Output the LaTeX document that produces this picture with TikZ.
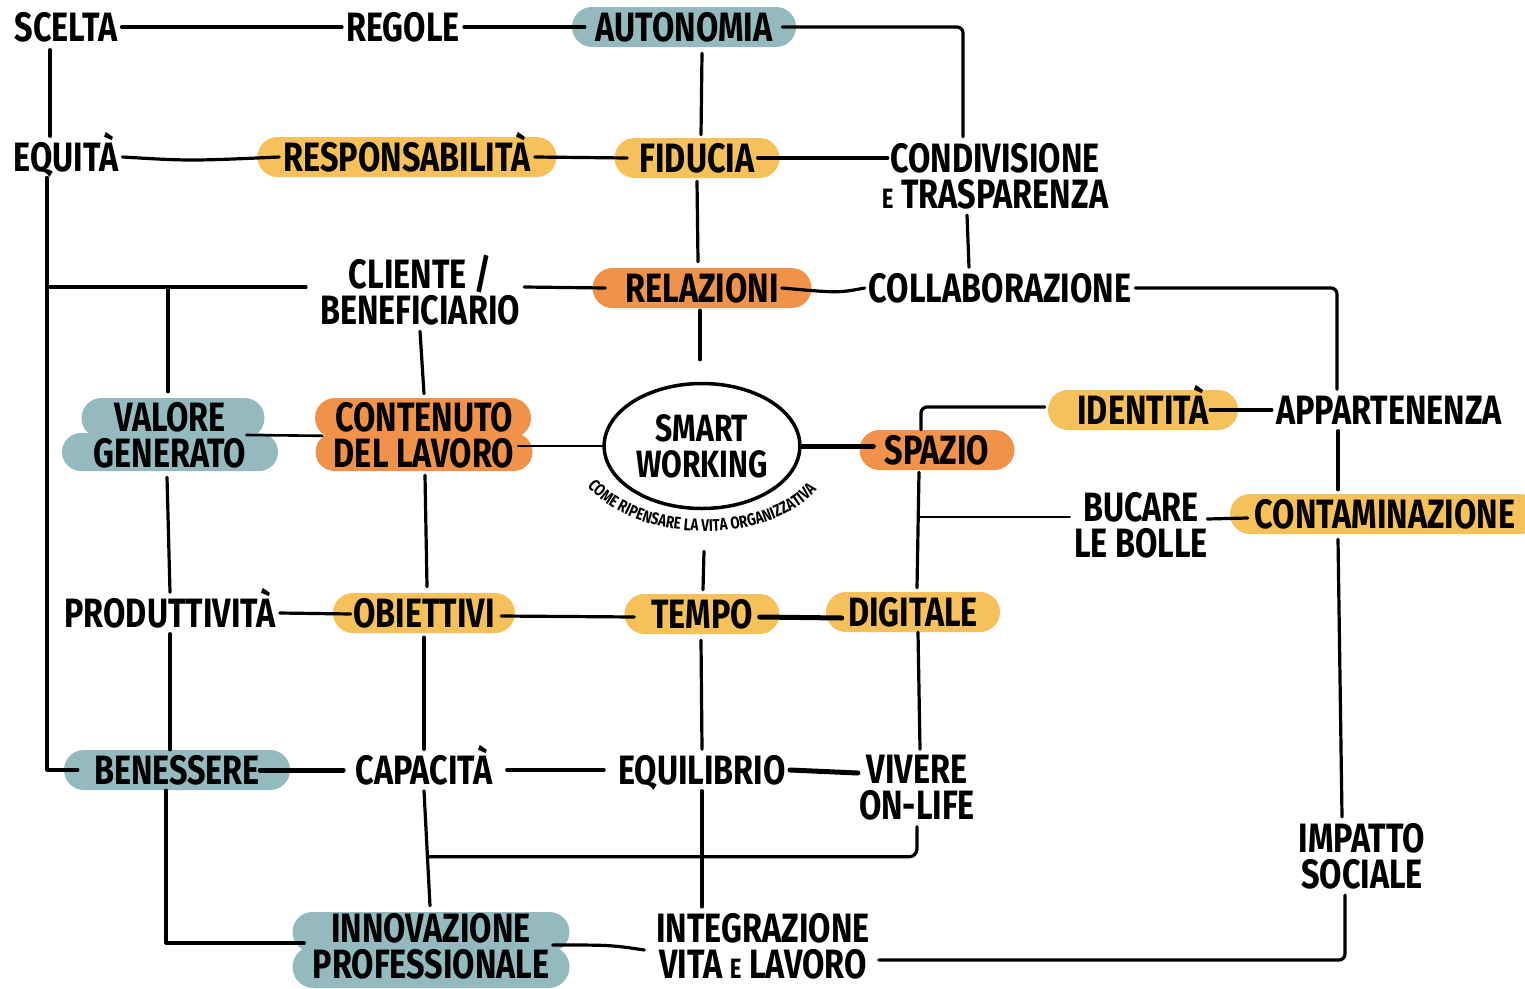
\documentclass[tikz,border=0pt]{standalone}
\usepackage{fontspec}
\newfontfamily\hand{Fira Sans}[FakeStretch=0.79]
\usetikzlibrary{calc,shapes.misc,shapes.geometric,decorations.text}
\definecolor{blu}{RGB}{148,185,191}
\definecolor{yel}{RGB}{246,192,90}
\definecolor{ora}{RGB}{240,146,74}
\tikzset{
  lbl/.style={font=\hand\bfseries\fontsize{41}{36}\selectfont, inner xsep=4pt, inner ysep=6pt, align=center, text=black},
  one/.style={lbl, text height=29pt, text depth=0pt},
  pill/.style={rounded rectangle, fill=#1, minimum height=40pt, inner sep=0pt, text height=29pt, text depth=0pt, font=\hand\bfseries\fontsize{41}{36}\selectfont, text=black},
  bgpill/.style={rounded rectangle, fill=#1, minimum height=40pt, inner sep=0pt},
  conn/.style={line width=3.2pt, line cap=round, line join=round, black},
  thk/.style={line width=5pt, line cap=round, black},
  thn/.style={line width=2.6pt, line cap=round, black},
}
\newcommand{\smallE}{{\fontsize{28}{28}\selectfont E}}
\begin{document}
\begin{tikzpicture}[x=1pt,y=-1pt]
\useasboundingbox (0,0) rectangle (1525,988);
% ---- nodes ----
\node[one] (scelta) at (66,27) {SCELTA};
\node[one] (regole) at (403,27) {REGOLE};
\node[pill=blu, minimum width=224pt] (auto) at (684,27) {AUTONOMIA};
\node[one] (equita) at (66,157) {EQUITÀ};
\node[pill=yel, minimum width=299pt] (resp) at (407,157) {RESPONSABILITÀ};
\node[pill=yel, minimum width=165pt] (fid) at (697,158) {FIDUCIA};
\node[lbl] (cond) at (995,176) {CONDIVISIONE\\\smallE\ TRASPARENZA};
\node[lbl] (cli) at (420,290) {CLIENTE /\\BENEFICIARIO};
\node[pill=ora, minimum width=219pt] (rel) at (702,288) {RELAZIONI};
\node[one] (coll) at (1000,288) {COLLABORAZIONE};
\node[ellipse, draw, line width=3.5pt, minimum width=195pt, minimum height=125pt, font=\hand\bfseries\fontsize{38}{36}\selectfont, align=center] (sw) at (702,446) {SMART\\WORKING};
\node[bgpill=blu, minimum width=183pt] (valA) at (173,418) {};
\node[bgpill=blu, minimum width=216pt, minimum height=38pt] (valB) at (170,452) {};
\node[lbl] (val) at (170,435) {VALORE\\GENERATO};
\node[bgpill=ora, minimum width=216pt] (contA) at (423,418) {};
\node[bgpill=ora, minimum width=217pt, minimum height=38pt] (contB) at (424,452) {};
\node[lbl] (cont) at (424,435) {CONTENUTO\\DEL LAVORO};
\node[pill=yel, minimum width=190pt] (ident) at (1143,410) {IDENTITÀ};
\node[one] (app) at (1389,410) {APPARTENENZA};
\node[pill=ora, minimum width=155pt] (spazio) at (937,450) {SPAZIO};
\node[lbl] (bucare) at (1141,525) {BUCARE\\LE BOLLE};
\node[pill=yel, minimum width=310pt] (contam) at (1385,514) {CONTAMINAZIONE};
\node[one] (prod) at (170,613) {PRODUTTIVITÀ};
\node[pill=yel, minimum width=182pt] (obj) at (424,613) {OBIETTIVI};
\node[pill=yel, minimum width=155pt] (tempo) at (702,614) {TEMPO};
\node[pill=yel, minimum width=174pt] (dig) at (913,612) {DIGITALE};
\node[pill=blu, minimum width=226pt] (ben) at (177,770) {BENESSERE};
\node[one] (cap) at (424,770) {CAPACITÀ};
\node[one] (equil) at (702,770) {EQUILIBRIO};
\node[lbl] (viv) at (917,788) {VIVERE\\ON-LIFE};
\node[lbl] (imp) at (1362,856) {IMPATTO\\SOCIALE};
\node[bgpill=blu, minimum width=277pt] (innA) at (431,932) {};
\node[bgpill=blu, minimum width=277pt, minimum height=42pt] (innB) at (431,967) {};
\node[lbl, inner ysep=0pt] (inn) at (431,946) {INNOVAZIONE\\PROFESSIONALE};
\node[lbl, inner ysep=0pt] (integ) at (763,946) {INTEGRAZIONE\\VITA \smallE\ LAVORO};
% arc text
\path[decorate, decoration={text along path, text align=center,
  text={|\hand\bfseries\fontsize{17}{17}\selectfont|COME RIPENSARE LA VITA ORGANIZZATIVA}}]
  ($(sw)+(-118,36)$) .. controls ($(sw)+(-70,100)$) and ($(sw)+(70,102)$) .. ($(sw)+(118,40)$);
% ---- connectors ----
\draw[conn] (scelta.east) -- (regole.west);
\draw[conn] (regole.east) -- ($(auto.west)+(13,0)$);
\draw[conn, rounded corners=6pt] ($(auto.east)+(-14,0)$) -| ($(cond.north)+(-32,0)$);
\draw[conn] ($(scelta.south)+(-16,2)$) -- ($(equita.north)+(-16,0)$);
\draw[conn] (equita.east) .. controls ($(equita.east)!0.5!(resp.west)+(0,4)$) .. ($(resp.west)+(22,0)$);
\draw[conn] ($(resp.east)+(-22,0)$) -- ($(fid.west)+(13,0)$);
\draw[conn] ($(fid.east)+(-22,0)$) -- ($(fid.east -| cond.west)+(10,0)$);
\draw[conn] ($(auto.south)+(18,6)$) -- ($(fid.north)+(4,-3)$);
\draw[conn] ($(fid.south)+(0,3)$) -- ($(rel.north)+(-4,-6)$);
\draw[conn] ($(cond.south)+(-28,0)$) -- ($(coll.north)+(-31,0)$);
\draw[conn] ($(cli.east)+(0,-3)$) -- ($(rel.west)+(13,0)$);
\draw[conn] ($(rel.east)+(-30,0)$) .. controls ($(rel.east)!0.5!(coll.west)+(0,5)$) .. (coll.west);
\draw[conn, rounded corners=6pt] (coll.east) -| ($(app.north)+(-52,0)$);
\draw[conn] ($(rel.south)+(-2,2)$) -- ($(sw.north)+(-2,-22)$);
\draw[conn] ($(equita.south)+(-19,0)$) |- ($(ben.west)+(14,0)$);
\draw[conn] ($(equita.south)+(-19,0)$) |- ($(cli.west)+(-10,-3)$);
\draw[conn] ($(valA.north)+(-5,-6)$) |- ($(cli.west)+(-10,-3)$);
\draw[conn] (cli.south) -- ($(contA.north)+(1,-4)$);
\draw[thn] ($(val.east)+(-4,0)$) -- ($(contB.north west)+(-12,3)$);
\draw[thn] (cont.east |- sw.west) -- (sw.west);
\draw[thk] (sw.east) -- ($(spazio.west)+(14,-4)$);
\draw[conn, rounded corners=6pt] ($(spazio.north)+(-16,0)$) |- ($(ident.west)+(-3,-3)$);
\draw[conn] ($(ident.east)+(-28,0)$) -- (app.west);
\draw[conn] ($(app.south)+(-51,0)$) -- ($(contam.north)+(-47,-4)$);
\draw[conn] ($(spazio.south)+(-18,2)$) -- ($(dig.north)+(4,-4)$);
\draw[thn] ($(bucare.west)+(0,-8)$) -| ($(spazio.south)+(-18,2)$);
\draw[conn] ($(bucare.east)+(-5,-6)$) -- ($(contam.west)+(18,4)$);
\draw[conn] ($(contam.south)+(-47,5)$) -- ($(imp.north)+(-20,0)$);
\draw[conn, rounded corners=6pt] ($(imp.south)+(-17,0)$) |- ($(integ.east)+(5,14)$);
\draw[conn] ($(sw.south)+(2,41)$) -- ($(tempo.north)+(1,-4)$);
\draw[conn] ($(valB.south)+(-3,6)$) -- (prod.north);
\draw[conn] (prod.east) -- ($(obj.west)+(18,1)$);
\draw[conn] ($(obj.east)+(-14,3)$) -- ($(tempo.west)+(10,3)$);
\draw[thk] ($(tempo.east)+(-20,3)$) -- ($(dig.west)+(16,6)$);
\draw[conn] ($(contB.south)+(1,4)$) -- ($(obj.north)+(3,-6)$);
\draw[conn] (prod.south) -- (prod.south |- ben.north);
\draw[conn] ($(obj.south)+(0,4)$) -- (cap.north);
\draw[conn] ($(tempo.south)+(-1,6)$) -- (equil.north);
\draw[conn] ($(dig.south)+(5,0)$) -- ($(viv.north)+(3,0)$);
\draw[thk] ($(ben.east)+(-30,0)$) -- ($(cap.west)+(-8,0)$);
\draw[conn, shorten <=10pt, shorten >=10pt] (cap.east) -- (equil.west);
\draw[thk] (equil.east) -- ($(equil.east -| viv.west)+(3,3)$);
\draw[conn, rounded corners=8pt] (viv.south) |- ($(innA.north)+(-2,-55)$);
\draw[conn] (cap.south) -- ($(innA.north)+(-1,-6)$);
\draw[conn] (equil.south) -- ($(equil.south |- integ.north)+(0,-6)$);
\draw[conn] ($(ben.south)+(-11,0)$) |- ($(innA.west)+(12,11)$);
\draw[conn] ($(innA.east)+(-17,13)$) .. controls ($(innA.east)!0.5!(integ.west)+(0,6)$) .. ($(integ.west)+(-8,4)$);
\end{tikzpicture}
\end{document}
